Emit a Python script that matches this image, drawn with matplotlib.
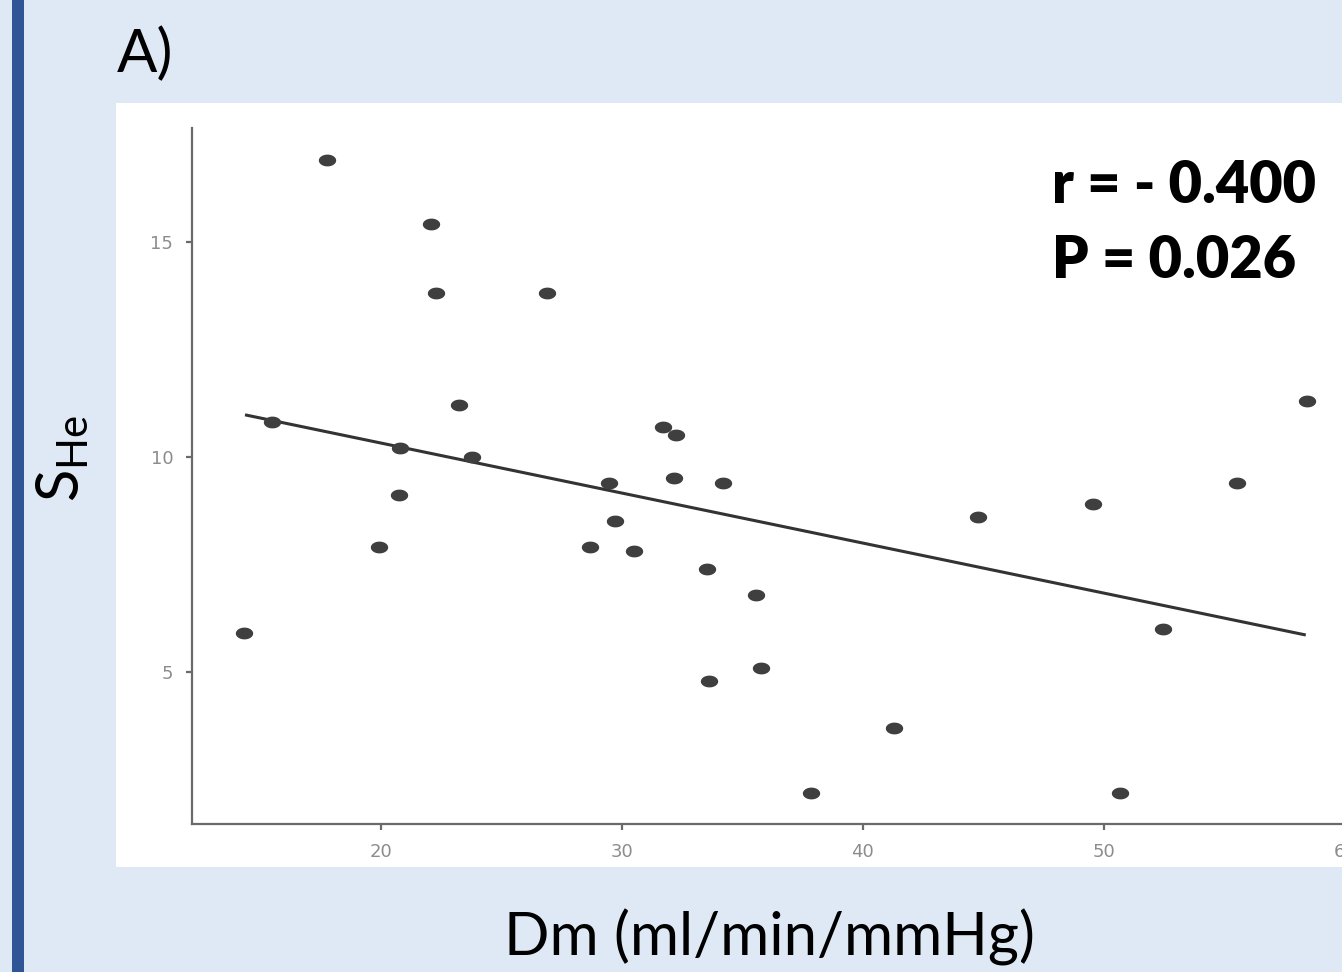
import matplotlib
matplotlib.use("Agg")
import matplotlib.pyplot as plt
import numpy as np
from matplotlib.path import Path
from matplotlib.patches import Rectangle

# ---------------- data ----------------
dm_values = [17.76, 22.07, 22.28, 26.89, 23.24, 15.48, 20.79, 23.78, 20.75, 19.92,
             14.32, 29.46, 29.71, 28.67, 30.50, 31.70, 32.24, 32.16, 34.19, 33.53,
             35.56, 35.77, 33.61, 41.29, 37.84, 44.77, 49.54, 52.45, 50.66, 55.52,
             58.42]
she_values = [16.91, 15.42, 13.81, 13.81, 11.21, 10.81, 10.21, 10.00, 9.12, 7.91,
              5.91, 9.40, 8.51, 7.91, 7.81, 10.70, 10.51, 9.51, 9.40, 7.40,
              6.79, 5.09, 4.79, 3.70, 2.19, 8.60, 8.91, 6.00, 2.19, 9.40,
              11.30]
fit_x = [14.36, 58.38]
fit_y = [10.98, 5.86]
x_ticks = [20, 30, 40, 50, 60]
y_ticks = [5, 10, 15]
panel_label = "A)"
stats_lines = ["r = - 0.400", "P = 0.026"]
x_label = "Dm (ml/min/mmHg)"

W, H = 1342, 972
DPI = 100
BG = "#DEE9F5"
BAR = "#2F5597"
plt.rcParams["mathtext.fontset"] = "custom"
plt.rcParams["mathtext.rm"] = "Lato"
plt.rcParams["mathtext.it"] = "Lato:italic"

fig = plt.figure(figsize=(W / DPI, H / DPI), dpi=DPI, facecolor=BG)

def fx(px):
    return px / W

def fy(py):
    return 1 - py / H

# dark blue vertical bar on the left
fig.patches.append(Rectangle((fx(12), 0), fx(12), 1, transform=fig.transFigure,
                             facecolor=BAR, edgecolor="none", zorder=-2))
# white panel
fig.patches.append(Rectangle((fx(116), fy(867)), 1.0, fy(103) - fy(867),
                             transform=fig.transFigure, facecolor="white",
                             edgecolor="none", zorder=-2))

ax_left, ax_right = 192, 1393
ax_top, ax_bottom = 128, 824
ax = fig.add_axes([fx(ax_left), fy(ax_bottom), fx(ax_right - ax_left),
                   fy(ax_top) - fy(ax_bottom)])
ax.set_zorder(1)
ax.set_facecolor("none")
ax.set_xlim(12.16, 62.0)
ax.set_ylim(1.465, 17.65)

# ellipse marker (points appear slightly stretched horizontally)
t = np.linspace(0, 2 * np.pi, 60)
ell = Path(np.column_stack([np.cos(t), 0.68 * np.sin(t)]), closed=True)

ax.plot(fit_x, fit_y, color="#333333", lw=2.2, solid_capstyle="butt", zorder=2)
ax.plot(dm_values, she_values, linestyle="none", marker=ell, ms=12.5,
        color="#3f3f3f", mec="none", zorder=3)

for s in ["top", "right"]:
    ax.spines[s].set_visible(False)
for s in ["left", "bottom"]:
    ax.spines[s].set_color("#6a6a6a")
    ax.spines[s].set_linewidth(1.6)
ax.set_xticks(x_ticks)
ax.set_yticks(y_ticks)
ax.tick_params(axis="both", direction="out", length=4.5, width=1.6, color="#6a6a6a",
               labelsize=13, labelcolor="#8c8c8c")
ax.tick_params(axis="x", pad=9)
ax.tick_params(axis="y", pad=9)
for lab in ax.get_xticklabels() + ax.get_yticklabels():
    lab.set_fontfamily("DejaVu Sans")

# texts
fig.text(fx(117), fy(72), panel_label, fontsize=43, family="Lato",
         color="black", va="baseline", ha="left")
fig.text(fx(1052), fy(203), stats_lines[0], fontsize=41.5, family="Lato",
         fontweight="heavy", color="black", va="baseline", ha="left")
fig.text(fx(1052), fy(278), stats_lines[1], fontsize=41.5, family="Lato",
         fontweight="heavy", color="black", va="baseline", ha="left")
fig.text(fx(769), fy(955), x_label, fontsize=43, family="Lato",
         color="black", va="baseline", ha="center")
fig.text(fx(80), fy(458), r"$\mathrm{S}_{\mathrm{He}}$", fontsize=43,
         color="black", va="baseline", ha="center", rotation=90,
         rotation_mode="anchor")

fig.savefig("out.png", dpi=DPI, facecolor=BG)
